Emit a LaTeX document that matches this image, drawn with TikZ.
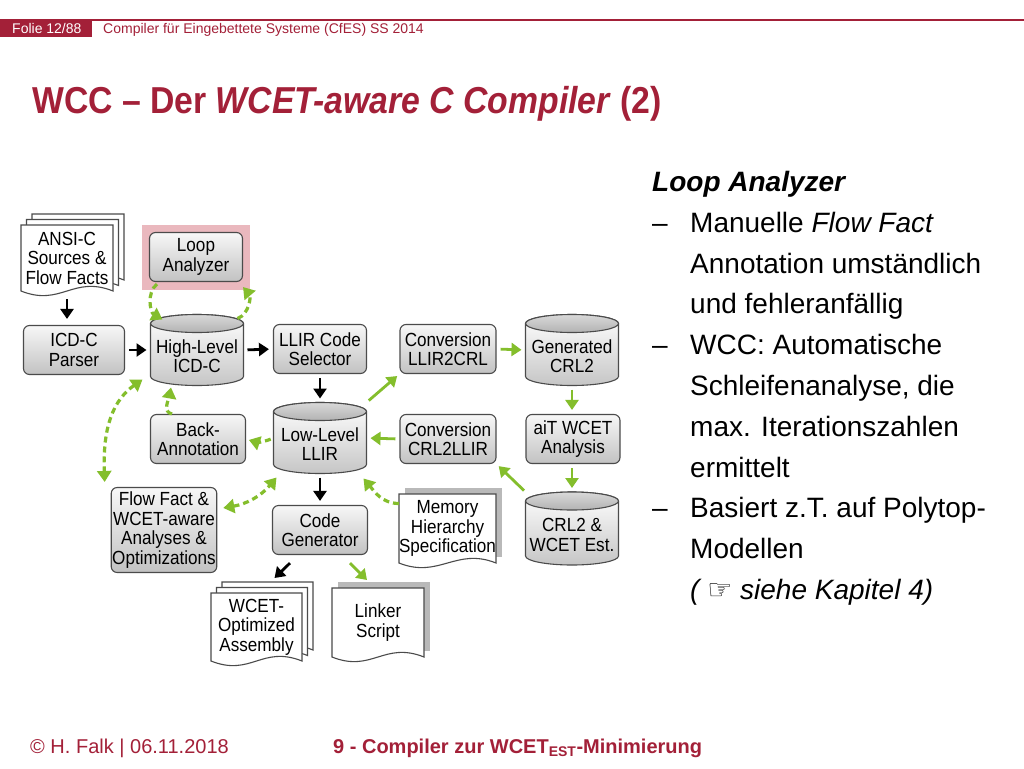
\documentclass[tikz,border=0pt]{standalone}
\usepackage{fontspec}
\setmainfont{Liberation Sans}
\newfontfamily\diagfont[FakeStretch=0.9]{Liberation Sans}
\newfontfamily\handfont{DejaVu Sans}
\usetikzlibrary{arrows.meta,backgrounds}

\definecolor{fhred}{RGB}{163,32,56}
\definecolor{flowgreen}{RGB}{132,190,44}
\definecolor{loopmark}{RGB}{234,184,190}
\definecolor{boxline}{RGB}{75,75,75}

\newcommand{\boxfont}{\diagfont\fontsize{19}{19.5}\selectfont}
\newcommand{\captop}{\rule{0pt}{26pt}}

% cylinder drawn behind a named node
\newcommand{\storeshape}[1]{%
  \shadedraw[top color=white,bottom color=gray!45,draw=boxline,line width=1.1pt]
    ([yshift=-9pt]#1.north west) -- ([yshift=9pt]#1.south west)
    arc[start angle=180,end angle=360,x radius=46.5pt,y radius=9pt]
    -- ([yshift=-9pt]#1.north east)
    arc[start angle=0,end angle=180,x radius=46.5pt,y radius=9pt] -- cycle;
  \shadedraw[top color=gray!30,bottom color=gray!60,draw=boxline,line width=1.1pt]
    ([yshift=-9pt]#1.north) ellipse[x radius=46.5pt,y radius=9pt];
}
% sheet with a wavy lower edge drawn behind a named node
\newcommand{\sheetshape}[2][(0,0)]{%
  \filldraw[fill=white,draw=boxline,line width=1.1pt]
    ([shift={#1}]#2.north west) -- ([shift={#1}]#2.north east)
    -- ([shift={#1}]#2.south east) .. controls +(-40pt,16pt) and +(40pt,-16pt) ..
    ([shift={#1}]#2.south west) -- cycle;
}
\newcommand{\sheetshadow}[1]{%
  \fill[gray!55] ([shift={(6,6)}]#1.north west) rectangle ([shift={(6,6)}]#1.south east);
}

\tikzset{
  box/.style={rectangle,rounded corners=6pt,draw=boxline,line width=1.1pt,
    top color=gray!6,bottom color=gray!48,minimum width=93pt,minimum height=49pt,
    inner sep=1pt,align=center,font=\boxfont},
  store/.style={rectangle,minimum width=93pt,minimum height=71pt,inner sep=0pt,
    outer sep=0pt,align=center,font=\boxfont},
  sheet/.style={rectangle,minimum width=92pt,minimum height=68pt,inner sep=0pt,
    outer sep=0pt,align=center,font=\boxfont},
  blackflow/.style={draw=black,line width=2.8pt,-{Triangle[length=10pt,width=13pt]},
    shorten <=4pt,shorten >=4pt},
  greenflow/.style={draw=flowgreen,line width=2.8pt,-{Triangle[length=10pt,width=13pt]},
    shorten <=4pt,shorten >=4pt},
  dashflow/.style={draw=flowgreen,line width=3.2pt,dash pattern=on 6pt off 4pt,
    -{Triangle[length=11pt,width=14pt]}},
  bothflow/.style={dashflow,{Triangle[length=11pt,width=14pt]}-{Triangle[length=11pt,width=14pt]}},
}

\begin{document}
\begin{tikzpicture}[x=1pt,y=1pt]
\useasboundingbox (0,0) rectangle (1024,-768);

% header and title
\fill[fhred] (0,-20) rectangle (92,-37);
\draw[fhred,line width=2pt] (0,-20.5) -- (1024,-20.5);
\node[anchor=base west,inner sep=0pt,text=white,font=\fontsize{14}{16}\selectfont] (folie) at (12,-34) {Folie 12/88};
\node[anchor=base west,inner sep=0pt,text=fhred,font=\fontsize{14}{16}\selectfont] (course) at (103,-34) {Compiler für Eingebettete Systeme (CfES) SS 2014};
\node[anchor=base west,inner sep=0pt,text=fhred,font=\diagfont\fontsize{37.5}{40}\selectfont\bfseries] (title) at (32,-113) {WCC – Der \textit{WCET-aware C Compiler} (2)};

% diagram
\node[sheet,minimum height=66pt] (ansi) at (67,-258) {ANSI-C\\Sources \&\\Flow Facts};
\node[box] (loop) at (196,-257) {Loop\\Analyzer};
\node[box,minimum width=101pt] (parser) at (74,-350) {ICD-C\\Parser};
\node[store] (hl) at (197,-350) {\captop High-Level\\ICD-C};
\node[box] (sel) at (320,-349) {LLIR Code\\Selector};
\node[box,minimum width=96pt] (l2c) at (448,-349) {Conversion\\LLIR2CRL};
\node[store] (gen) at (572,-350) {\captop Generated\\CRL2};
\node[box,minimum width=95pt] (back) at (198,-439) {Back-\\Annotation};
\node[store] (ll) at (320,-438) {\captop Low-Level\\LLIR};
\node[box,minimum width=96pt] (c2l) at (448,-439) {Conversion\\CRL2LLIR};
\node[box,minimum width=94pt] (ait) at (573,-439) {aiT WCET\\Analysis};
\node[box,minimum width=104pt,minimum height=85pt] (ffa) at (164,-530) {Flow Fact \&\\WCET-aware\\Analyses \&\\Optimizations};
\node[box,minimum width=95pt] (cg) at (320,-530) {Code\\Generator};
\node[sheet,minimum width=97pt,minimum height=69pt] (mem) at (447.5,-528.5) {Memory\\Hierarchy\\Specification};
\node[store,minimum height=73pt] (crl) at (572,-528.5) {\captop CRL2 \&\\WCET Est.};
\node[sheet,minimum width=91pt] (asm) at (256.5,-627) {WCET-\\Optimized\\Assembly};
\node[sheet,minimum height=69pt] (link) at (378,-622.5) {Linker\\Script};

\begin{scope}[on background layer]
  \fill[white] (0,0) rectangle (1024,-768);
  \fill[loopmark] ([shift={(-7,7)}]loop.north west) rectangle ([shift={(7,-8)}]loop.south east);
  \storeshape{hl}
  \storeshape{gen}
  \storeshape{ll}
  \storeshape{crl}
  \sheetshape[(11,11)]{ansi}
  \sheetshape[(5.5,5.5)]{ansi}
  \sheetshape{ansi}
  \sheetshape[(11,11)]{asm}
  \sheetshape[(5.5,5.5)]{asm}
  \sheetshape{asm}
  \sheetshadow{mem}
  \sheetshape{mem}
  \sheetshadow{link}
  \sheetshape{link}
\end{scope}

% black arrows
\draw[blackflow,shorten <=8pt,shorten >=6pt] (ansi.south) -- (ansi.south |- parser.north);
\draw[blackflow] (parser.east) -- (hl.west);
\draw[blackflow] (hl.east) -- (sel.west);
\draw[blackflow] (sel.south) -- (ll.north);
\draw[blackflow] (ll.south) -- (cg.north);
\draw[blackflow,shorten <=0pt,shorten >=0pt] ([shift={(-30,-8)}]cg.south) -- ([shift={(18,15)}]asm.north);

% green arrows
\draw[greenflow] (l2c.east) -- (gen.west);
\draw[greenflow] (gen.south) -- (gen.south |- ait.north);
\draw[greenflow] (crl.north |- ait.south) -- (crl.north);
\draw[greenflow,shorten <=2pt,shorten >=3pt] (crl.north west) -- (c2l.south east);
\draw[greenflow] (c2l.west) -- (ll.east);
\draw[greenflow,shorten <=3pt,shorten >=3pt] (ll.north east) -- (l2c.south west);
\draw[greenflow,shorten <=0pt,shorten >=0pt] ([shift={(30,-8)}]cg.south) -- ([shift={(-11,8)}]link.north);

% dashed green arrows
\draw[dashflow] ([shift={(8,-2)}]loop.south west) to[out=220,in=150] ([shift={(12,-5)}]hl.north west);
\draw[dashflow] ([shift={(-6,-4)}]hl.north east) to[out=20,in=-50] ([yshift=-5]loop.south east);
\draw[dashflow] ([xshift=-26]back.north) to[out=170,in=-100] ([shift={(-26,-2)}]hl.south);
\draw[dashflow,shorten <=3pt,shorten >=3pt] (ll.west) to[bend left=20] (back.east);
\draw[bothflow] ([shift={(-8,6)}]hl.south west) to[out=215,in=92] ([shift={(-6,5)}]ffa.north west);
\draw[bothflow] ([shift={(6,22)}]ffa.east) to[out=10,in=230] ([shift={(3,-4)}]ll.south west);
\draw[dashflow] ([yshift=25]mem.west) to[out=180,in=-50] ([shift={(-3,-5)}]ll.south east);

% notes on the right
\node[anchor=north west,inner sep=0pt,align=left,font=\fontsize{28}{40.8}\selectfont] (notes) at (652,-171) {%
\textbf{\textit{Loop Analyzer}}\\
\makebox[38pt][l]{–}Manuelle \textit{Flow Fact}\\
\hspace*{38pt}Annotation umständlich\\
\hspace*{38pt}und fehleranfällig\\
\makebox[38pt][l]{–}WCC: Automatische\\
\hspace*{38pt}Schleifenanalyse, die\\
\hspace*{38pt}max. Iterationszahlen\\
\hspace*{38pt}ermittelt\\
\makebox[38pt][l]{–}Basiert z.T. auf Polytop-\\
\hspace*{38pt}Modellen\\
\hspace*{38pt}\textit{( {\handfont\fontsize{28}{28}\selectfont ☞} siehe Kapitel 4)}};

% footer
\node[anchor=base west,inner sep=0pt,text=fhred,font=\fontsize{20}{24}\selectfont] (author) at (30,-753) {\textcopyright\ H. Falk | 06.11.2018};
\node[anchor=base west,inner sep=0pt,text=fhred,font=\fontsize{20}{24}\selectfont\bfseries] (chapter) at (333,-753) {9 - Compiler zur WCET\textsubscript{EST}-Minimierung};
\end{tikzpicture}
\end{document}
